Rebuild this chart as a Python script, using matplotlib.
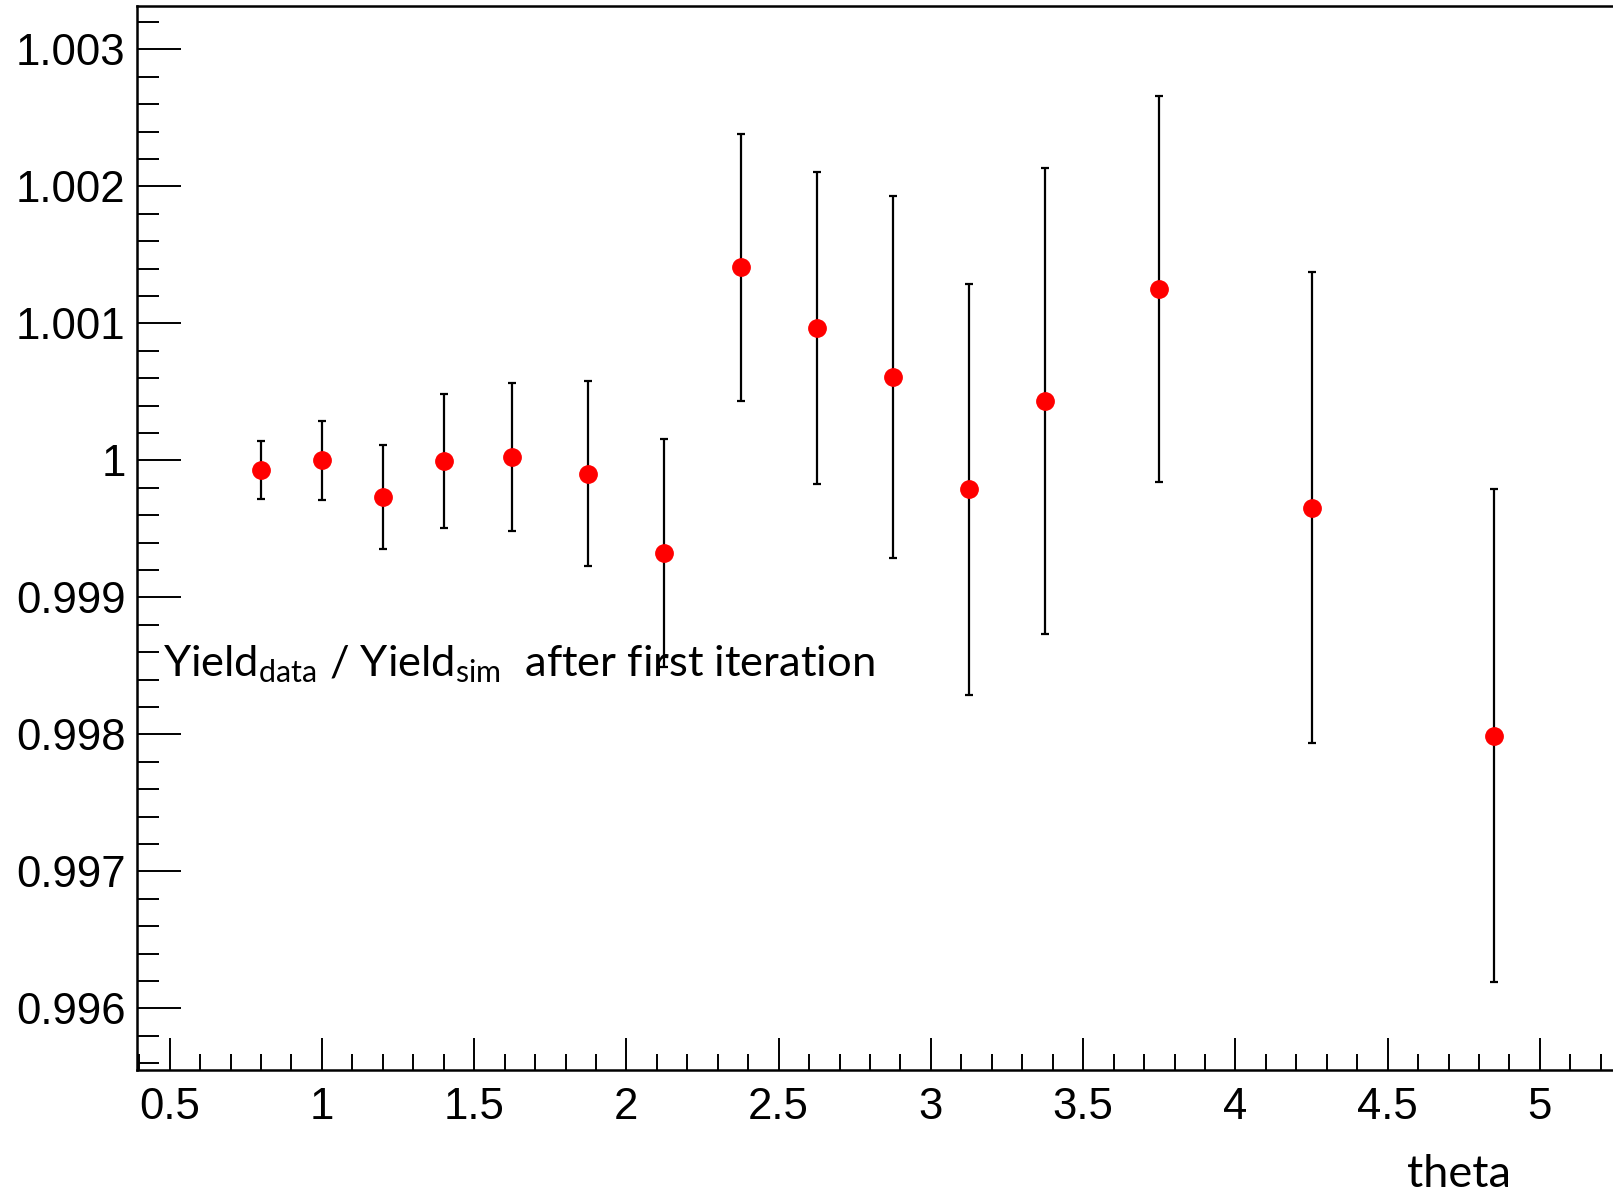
import matplotlib
matplotlib.use("Agg")
import matplotlib.pyplot as plt
from matplotlib.ticker import MultipleLocator, FuncFormatter

# ─────────────────────────────────────────
#  DATA
# ─────────────────────────────────────────
theta = [0.80, 1.00, 1.20, 1.40, 1.625, 1.875, 2.125, 2.375,
         2.625, 2.875, 3.125, 3.375, 3.75, 4.25, 4.85]
ratio = [0.99993, 1.00000, 0.99973, 0.999993, 1.000022, 0.999902, 0.999325, 1.00141,
         1.000968, 1.000608, 0.99979, 1.000435, 1.001253, 0.999655, 0.99799]
err   = [0.00021, 0.00029, 0.00038, 0.00049, 0.00054, 0.000675, 0.00083, 0.000975,
         0.00114, 0.00132, 0.00150, 0.00170, 0.00141, 0.00172, 0.00180]

plt.rcParams['mathtext.fontset'] = 'custom'
plt.rcParams['mathtext.rm'] = 'Lato'

fig = plt.figure(figsize=(16.13, 11.94), dpi=100)
ax = fig.add_axes([0.0848, 0.1039, 1 - 0.0848, 0.8909])

ax.errorbar(theta, ratio, yerr=err, fmt='none', ecolor='black',
            elinewidth=1.6, capsize=3, capthick=1.6, zorder=2)
ax.plot(theta, ratio, 'o', color='red', markersize=12.5, zorder=3)

ax.set_xlim(0.392, 5.24)
ax.set_ylim(0.99555, 1.003315)

ax.xaxis.set_major_locator(MultipleLocator(0.5))
ax.xaxis.set_minor_locator(MultipleLocator(0.1))
ax.yaxis.set_major_locator(MultipleLocator(0.001))
ax.yaxis.set_minor_locator(MultipleLocator(0.0002))
fmt = FuncFormatter(lambda v, p: "%g" % round(v, 6))
ax.xaxis.set_major_formatter(fmt)
ax.yaxis.set_major_formatter(fmt)

ax.spines['right'].set_visible(False)
for s in ['left', 'bottom', 'top']:
    ax.spines[s].set_linewidth(1.8)

ax.tick_params(axis='both', which='both', direction='in', width=1.4,
               labelsize=31.5, top=False, right=False)
ax.tick_params(axis='y', which='major', length=31.5, pad=8)
ax.tick_params(axis='y', which='minor', length=16)
ax.tick_params(axis='x', which='major', length=23, pad=12)
ax.tick_params(axis='x', which='minor', length=11.5)
for lab in ax.get_xticklabels() + ax.get_yticklabels():
    lab.set_family(['Liberation Sans', 'DejaVu Sans'])

ax.text(0.0176, 0.370,
        r"Yield$_{\mathrm{data}}$ / Yield$_{\mathrm{sim}}$  after first iteration",
        transform=ax.transAxes, fontsize=31.3, family='Lato', va='baseline')

fig.text(0.9045, 0.006, "theta", fontsize=32.5, family='Lato', ha='center')

fig.savefig("out.png", dpi=100)
